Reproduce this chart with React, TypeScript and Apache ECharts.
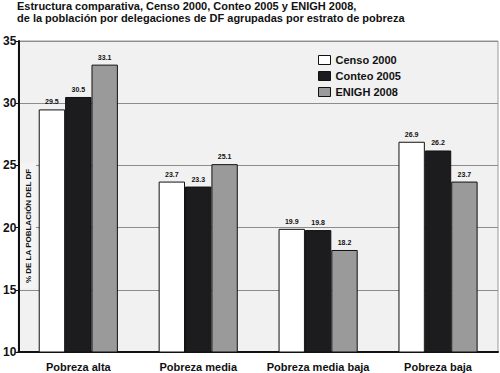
import React, { useEffect, useRef } from "react";
import * as echarts from "echarts";

const categories = ["Pobreza alta", "Pobreza media", "Pobreza media baja", "Pobreza baja"];
const censo2000 = [29.5, 23.7, 19.9, 26.9];
const conteo2005 = [30.5, 23.3, 19.8, 26.2];
const enigh2008 = [33.1, 25.1, 18.2, 23.7];
const seriesNames = ["Censo 2000", "Conteo 2005", "ENIGH 2008"];
const titleLines = [
  "Estructura comparativa, Censo 2000, Conteo 2005 y ENIGH 2008,",
  "de la población por delegaciones de DF agrupadas por estrato de pobreza",
];
const yAxisName = "% DE LA POBLACIÓN DEL DF";

const FONT = "Liberation Sans, Arial, sans-serif";

export default function App() {
  const ref = useRef<HTMLDivElement>(null);
  useEffect(() => {
    if (!ref.current) return;
    const chart = echarts.init(ref.current, null, { renderer: "svg" });
    const colors = ["#ffffff", "#1c1c1e", "#9a9a9a"];
    const data = [censo2000, conteo2005, enigh2008];
    chart.setOption({
      animation: false,
      backgroundColor: "#ffffff",
      textStyle: { fontFamily: FONT },
      title: {
        text: titleLines.join("\n"),
        left: 17,
        top: 0,
        padding: 0,
        textStyle: { fontSize: 11, fontWeight: "bold", color: "#111", lineHeight: 12, fontFamily: FONT },
      },
      legend: {
        orient: "vertical",
        left: 318,
        top: 54,
        padding: 0,
        itemWidth: 12,
        itemHeight: 9,
        itemGap: 4,
        icon: "rect",
        data: seriesNames,
        itemStyle: { borderColor: "#111", borderWidth: 1 },
        textStyle: { fontSize: 11, fontWeight: "bold", color: "#111", lineHeight: 12, fontFamily: FONT },
      },
      grid: {
        left: 16,
        right: 2,
        top: 41,
        bottom: 21,
        show: true,
        backgroundColor: "#f1f1f2",
        borderColor: "#9a9a9a",
        borderWidth: 1,
      },
      xAxis: {
        type: "category",
        data: categories,
        axisLine: { show: true, lineStyle: { color: "#111", width: 2 } },
        axisTick: { show: false },
        axisLabel: { interval: 0, fontSize: 11, fontWeight: "bold", color: "#111", margin: 9, fontFamily: FONT },
      },
      yAxis: {
        type: "value",
        min: 10,
        max: 35,
        interval: 5,
        axisLine: { show: true, lineStyle: { color: "#111", width: 2 } },
        axisTick: { show: true, length: 3, lineStyle: { color: "#111", width: 1 } },
        axisLabel: { fontSize: 12, fontWeight: "bold", color: "#111", margin: 2, fontFamily: FONT },
        splitLine: { show: true, lineStyle: { color: "#8c8c8c", width: 1 } },
      },
      graphic: [
        {
          type: "rect",
          shape: { x: 20, y: 163, width: 16, height: 125 },
          style: { fill: "#f4f4f5" },
          z: 5,
        },
        {
          type: "text",
          x: 28,
          y: 226,
          rotation: Math.PI / 2,
          z: 6,
          style: {
            text: yAxisName,
            fontSize: 8,
            fontWeight: "bold",
            fill: "#111",
            align: "center",
            verticalAlign: "middle",
            fontFamily: FONT,
          },
        },
      ],
      series: seriesNames.map((name, i) => ({
        name,
        type: "bar",
        data: data[i],
        barGap: "0%",
        barCategoryGap: "34%",
        itemStyle: { color: colors[i], borderColor: "#111", borderWidth: 1 },
        label: {
          show: true,
          position: "top",
          distance: 4,
          fontSize: 7,
          fontWeight: "bold",
          color: "#111",
          fontFamily: FONT,
        },
      })),
    });
    return () => chart.dispose();
  }, []);
  return <div ref={ref} style={{ width: 500, height: 373, position: "absolute", left: 0, top: 0 }} />;
}
